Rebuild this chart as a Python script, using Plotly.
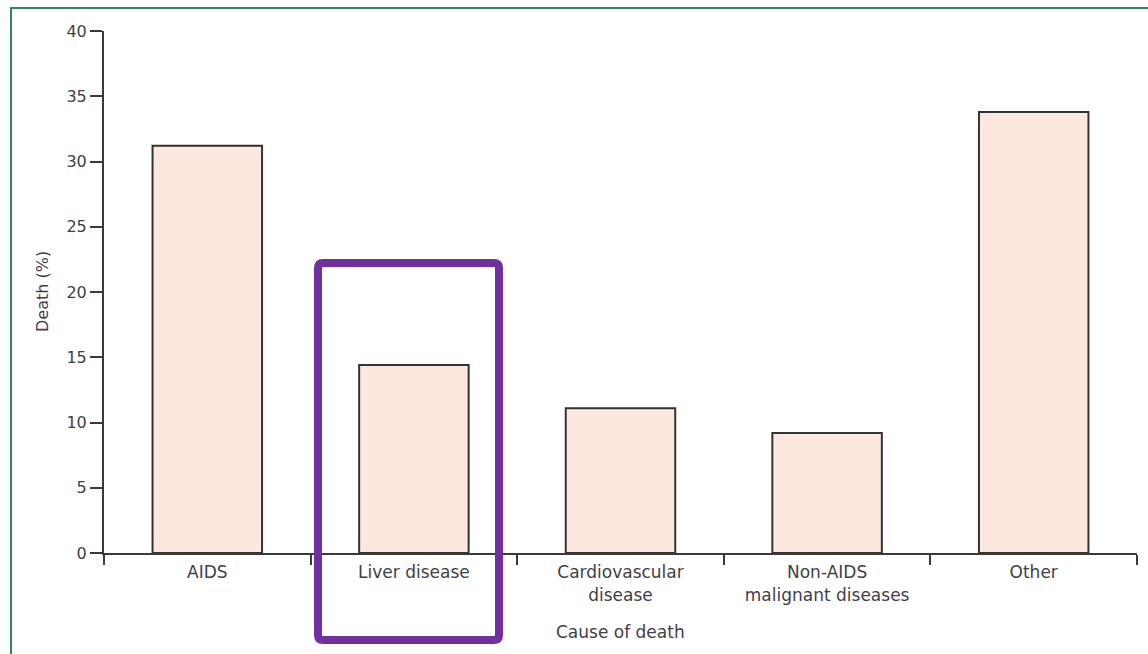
import plotly.graph_objects as go

# Causes of death and their share (%)
causes = ["AIDS", "Liver disease", "Cardiovascular<br>disease",
          "Non-AIDS<br>malignant diseases", "Other"]
death_pct = [31.2, 14.4, 11.1, 9.2, 33.8]

y_ticks = [0, 5, 10, 15, 20, 25, 30, 35, 40]

W, H = 1148, 654
L, R, T, B = 104, 11, 31, 101
PW, PH = W - L - R, H - T - B

FONT = "DejaVu Sans"
TXT = "#404048"
AX = "#3a3a3a"


def px_x(x):
    return (x - L) / PW


def px_y(y):
    return (H - B - y) / PH


fig = go.Figure(go.Bar(
    x=causes,
    y=death_pct,
    width=0.53,
    marker=dict(color="#FCE8DE", line=dict(color="#333333", width=2)),
    hoverinfo="skip",
))

# highlight frame with rounded corners around the liver-disease bar
x0, x1, y0, y1, r = 318, 499, 263, 640, 5
path = (
    f"M {px_x(x0 + r)},{px_y(y0)} L {px_x(x1 - r)},{px_y(y0)} "
    f"Q {px_x(x1)},{px_y(y0)} {px_x(x1)},{px_y(y0 + r)} "
    f"L {px_x(x1)},{px_y(y1 - r)} "
    f"Q {px_x(x1)},{px_y(y1)} {px_x(x1 - r)},{px_y(y1)} "
    f"L {px_x(x0 + r)},{px_y(y1)} "
    f"Q {px_x(x0)},{px_y(y1)} {px_x(x0)},{px_y(y1 - r)} "
    f"L {px_x(x0)},{px_y(y0 + r)} "
    f"Q {px_x(x0)},{px_y(y0)} {px_x(x0 + r)},{px_y(y0)} Z"
)

fig.update_layout(
    width=W, height=H,
    margin=dict(l=L, r=R, t=T, b=B),
    paper_bgcolor="white", plot_bgcolor="white",
    showlegend=False,
    font=dict(family=FONT, size=16, color=TXT),
    xaxis=dict(
        type="category",
        range=[-0.5, 4.5],
        showline=True, linecolor=AX, linewidth=2,
        ticks="outside", ticklen=10, tickwidth=2, tickcolor=AX,
        tickson="boundaries",
        ticklabelstandoff=3,
        showgrid=False, zeroline=False,
        tickfont=dict(family=FONT, size=17, color=TXT),
        fixedrange=True,
    ),
    yaxis=dict(
        range=[0, 40],
        tickvals=y_ticks,
        showline=True, linecolor=AX, linewidth=2,
        ticks="outside", ticklen=12, tickwidth=2, tickcolor=AX,
        showgrid=False, zeroline=False,
        tickfont=dict(family=FONT, size=16, color=TXT),
        fixedrange=True,
    ),
    shapes=[
        dict(type="rect", xref="paper", yref="paper",
             x0=px_x(11), x1=px_x(W + 20), y0=px_y(8), y1=px_y(H + 20),
             line=dict(color="#2E8B57", width=2), layer="above"),
        dict(type="path", xref="paper", yref="paper", path=path,
             line=dict(color="#7030A0", width=8), layer="above"),
    ],
    annotations=[
        dict(text="Death (%)", xref="paper", yref="paper", x=0, y=0.5,
             xanchor="center", yanchor="middle", xshift=42 - L,
             textangle=-90, showarrow=False,
             font=dict(family=FONT, size=16, color=TXT)),
        dict(text="Cause of death", xref="paper", yref="paper", x=0.5, y=0,
             xanchor="center", yanchor="middle", yshift=-(632 - (H - B)),
             showarrow=False,
             font=dict(family=FONT, size=17, color=TXT)),
    ],
)

fig.write_html("out.html", config={"displayModeBar": False})
